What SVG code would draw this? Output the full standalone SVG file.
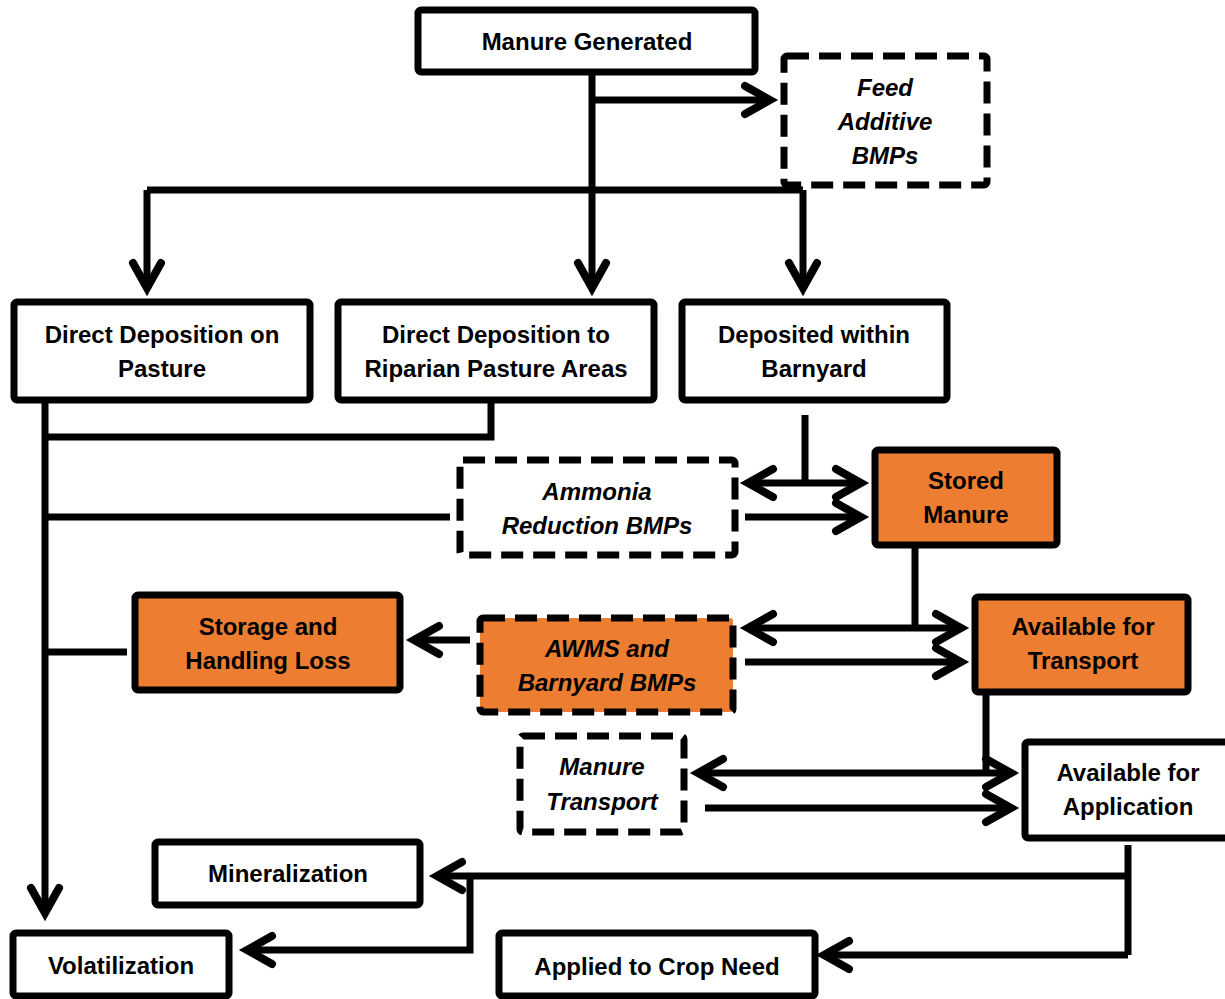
<svg xmlns="http://www.w3.org/2000/svg" width="1225" height="999" viewBox="0 0 1225 999">
<style>
.box{fill:#fff;stroke:#000;stroke-width:7}
.org{fill:#ED7D31;stroke:#000;stroke-width:7}
.dash{fill:#fff;stroke:#000;stroke-width:7;stroke-dasharray:22 10}
.dorg{fill:#ED7D31;stroke:#000;stroke-width:7;stroke-dasharray:22 10}
text{font-family:"Liberation Sans",Arial,sans-serif;font-weight:bold;font-size:24px;text-anchor:middle;fill:#000}
.it{font-style:italic}
.ln{fill:none;stroke:#000;stroke-width:7}
.ah{fill:none;stroke:#000;stroke-width:8;stroke-linecap:round;stroke-linejoin:miter}
</style>
<rect width="1225" height="999" fill="#fff"/>
<g id="connectors">
<path class="ln" d="M592 73V288M592 100H765M147 190H803M147 190V288M803 190V288"/>
<path class="ah" d="M745 86L770 100L745 114M133 263L147 288L161 263M578 263L592 288L606 263M789 263L803 288L817 263"/>
<path class="ln" d="M45 403V912M45 437H491V403M45 517H450M45 652H127"/>
<path class="ah" d="M31 888L45 913L59 888"/>
<path class="ln" d="M805 415V483M748 483H860M745 517H860"/>
<path class="ah" d="M773 469L748 483L773 497M836 469L861 483L836 497M836 503L861 517L836 531"/>
<path class="ln" d="M915 548V628M748 628H960M745 662H960"/>
<path class="ah" d="M773 614L748 628L773 642M936 614L961 628L936 642M936 648L961 662L936 676"/>
<path class="ln" d="M470 640H414"/>
<path class="ah" d="M439 626L414 640L439 654"/>
<path class="ln" d="M986 695V773M698 773H1010M705 808H1010"/>
<path class="ah" d="M723 759L698 773L723 787M986 759L1011 773L986 787M986 794L1011 808L986 822"/>
<path class="ln" d="M1128 845V955M1128 876H437M470 876V950H247M1128 955H824"/>
<path class="ah" d="M462 862L437 876L462 890M272 936L247 950L272 964M849 941L824 955L849 969"/>
</g>
<g id="manure-generated"><rect class="box" x="418" y="10" width="337" height="62" rx="3"/><text x="587" y="50">Manure Generated</text></g>
<g id="feed-additive"><rect class="dash" x="784" y="56" width="203" height="129" rx="3"/><text class="it" x="885" y="96">Feed</text><text class="it" x="885" y="130">Additive</text><text class="it" x="885" y="164">BMPs</text></g>
<g id="direct-pasture"><rect class="box" x="14" y="302" width="296" height="98" rx="3"/><text x="162" y="343">Direct Deposition on</text><text x="162" y="377">Pasture</text></g>
<g id="direct-riparian"><rect class="box" x="338" y="302" width="316" height="98" rx="3"/><text x="496" y="343">Direct Deposition to</text><text x="496" y="377">Riparian Pasture Areas</text></g>
<g id="barnyard"><rect class="box" x="682" y="302" width="265" height="98" rx="3"/><text x="814" y="343">Deposited within</text><text x="814" y="377">Barnyard</text></g>
<g id="ammonia"><rect class="dash" x="460" y="460" width="275" height="95" rx="3"/><text class="it" x="597" y="500">Ammonia</text><text class="it" x="597" y="534">Reduction BMPs</text></g>
<g id="stored-manure"><rect class="org" x="875" y="450" width="182" height="95" rx="3"/><text x="966" y="489">Stored</text><text x="966" y="523">Manure</text></g>
<g id="storage-loss"><rect class="org" x="135" y="595" width="265" height="95" rx="3"/><text x="268" y="635">Storage and</text><text x="268" y="669">Handling Loss</text></g>
<g id="awms"><rect class="dorg" x="480" y="618" width="253" height="94" rx="3"/><text class="it" x="607" y="657">AWMS and</text><text class="it" x="607" y="691">Barnyard BMPs</text></g>
<g id="avail-transport"><rect class="org" x="975" y="597" width="213" height="95" rx="3"/><text x="1083" y="635">Available for</text><text x="1083" y="669">Transport</text></g>
<g id="manure-transport"><rect class="dash" x="520" y="736" width="164" height="96" rx="3"/><text class="it" x="602" y="775">Manure</text><text class="it" x="602" y="810">Transport</text></g>
<g id="avail-application"><rect class="box" x="1025" y="742" width="205" height="96" rx="3"/><text x="1128" y="781">Available for</text><text x="1128" y="815">Application</text></g>
<g id="mineralization"><rect class="box" x="155" y="842" width="265" height="63" rx="3"/><text x="288" y="882">Mineralization</text></g>
<g id="volatilization"><rect class="box" x="13" y="933" width="216" height="63" rx="3"/><text x="121" y="974">Volatilization</text></g>
<g id="applied"><rect class="box" x="499" y="933" width="316" height="63" rx="3"/><text x="657" y="975">Applied to Crop Need</text></g>
</svg>
